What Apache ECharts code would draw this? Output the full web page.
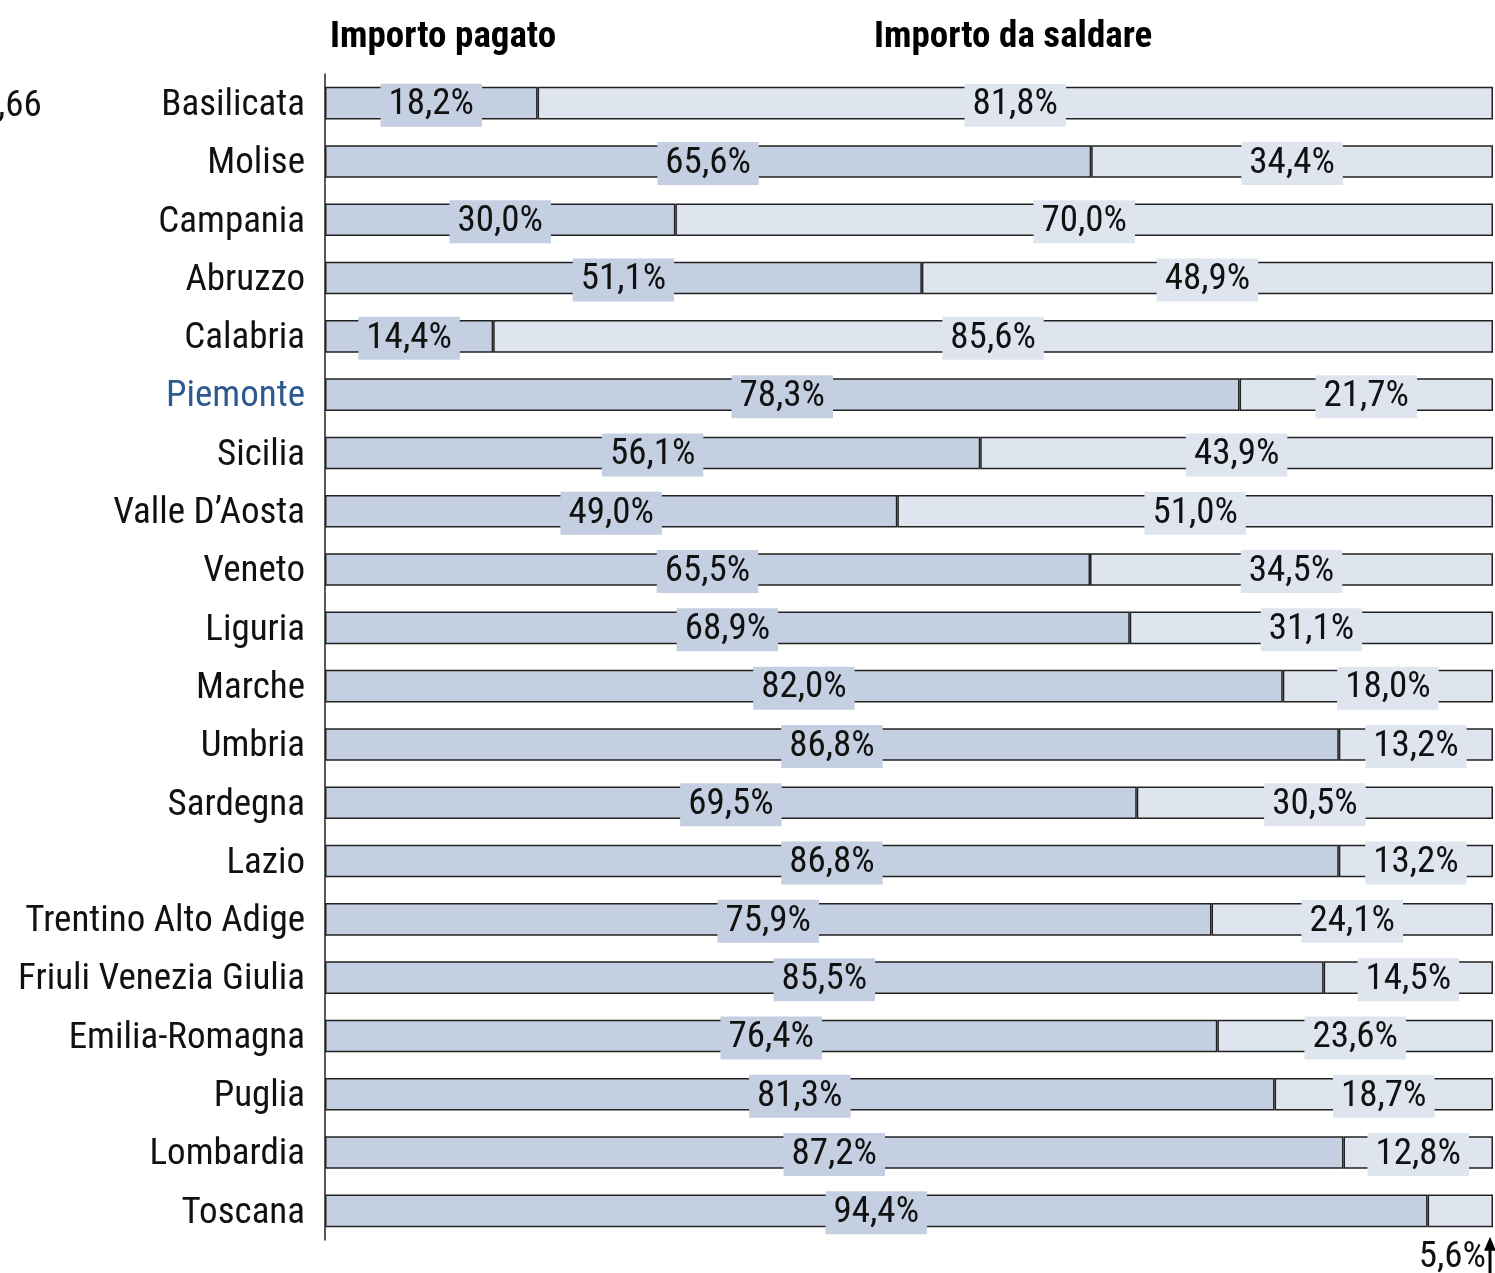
<!DOCTYPE html>
<html>
<head>
<meta charset="utf-8">
<script src="https://cdn.jsdelivr.net/npm/echarts@6/dist/echarts.min.js"></script>
<style>
  html, body { margin: 0; padding: 0; background: #fff; }
  #chart { width: 1495px; height: 1273px; }
</style>
</head>
<body>
<div id="chart"></div>
<script>
// regioni, dall'alto verso il basso
const regioni = ['Basilicata', 'Molise', 'Campania', 'Abruzzo', 'Calabria', 'Piemonte', 'Sicilia',
  "Valle D\u2019Aosta", 'Veneto', 'Liguria', 'Marche', 'Umbria', 'Sardegna', 'Lazio',
  'Trentino Alto Adige', 'Friuli Venezia Giulia', 'Emilia-Romagna', 'Puglia', 'Lombardia', 'Toscana'];
const pagato = [18.2, 65.6, 30.0, 51.1, 14.4, 78.3, 56.1, 49.0, 65.5, 68.9, 82.0, 86.8, 69.5, 86.8, 75.9, 85.5, 76.4, 81.3, 87.2, 94.4];
const daSaldare = [81.8, 34.4, 70.0, 48.9, 85.6, 21.7, 43.9, 51.0, 34.5, 31.1, 18.0, 13.2, 30.5, 13.2, 24.1, 14.5, 23.6, 18.7, 12.8, 5.6];
const evidenziata = 'Piemonte';

const FONT = "'Roboto Condensed', 'Liberation Sans Narrow', Roboto, sans-serif";
const FS = 37;
const C_PAGATO = '#c4cfe1';
const C_SALDARE = '#dfe5ef';

const fmt = v => v.toFixed(1).replace('.', ',') + '%';

function barLabel(bg) {
  return {
    show: true,
    position: 'inside',
    offset: [0, 2],
    formatter: p => fmt(p.value),
    fontFamily: FONT,
    fontSize: FS,
    color: '#111',
    backgroundColor: bg,
    padding: [2, 8, 2, 8],
    lineHeight: 39
  };
}

const chart = echarts.init(document.getElementById('chart'));

const option = {
  animation: false,
  backgroundColor: '#fff',
  grid: { left: 325, right: 2, top: 74, bottom: 33 },
  graphic: [
    { type: 'text', left: 330, top: 19, style: { text: 'Importo pagato', font: 'bold 37px ' + FONT, fill: '#000' } },
    { type: 'text', left: 874, top: 19, style: { text: 'Importo da saldare', font: 'bold 37px ' + FONT, fill: '#000' } },
    { type: 'text', left: -2, top: 88, style: { text: ',66', font: FS + 'px ' + FONT, fill: '#111' } }
  ],
  xAxis: { type: 'value', min: 0, max: 100, show: false },
  yAxis: {
    type: 'category',
    data: regioni,
    inverse: true,
    axisLine: { show: true, lineStyle: { color: '#222', width: 1.5 } },
    axisTick: { show: false },
    axisLabel: {
      margin: 20,
      padding: [5, 0, 0, 0],
      fontFamily: FONT,
      fontSize: FS,
      color: '#111',
      formatter: v => v === evidenziata ? '{h|' + v + '}' : v,
      rich: { h: { color: '#2d5a8e', fontFamily: FONT, fontSize: FS } }
    }
  },
  series: [
    {
      name: 'Importo pagato',
      type: 'bar',
      stack: 'tot',
      barWidth: '56%',
      data: pagato,
      itemStyle: { color: C_PAGATO, borderColor: '#222', borderWidth: 1.5 },
      label: barLabel(C_PAGATO)
    },
    {
      name: 'Importo da saldare',
      type: 'bar',
      stack: 'tot',
      data: daSaldare.map((v, i) => i === regioni.length - 1
        ? { value: v, label: { position: 'bottom', distance: 3, offset: [-8, 8], backgroundColor: 'transparent', padding: 0 } }
        : v),
      itemStyle: { color: C_SALDARE, borderColor: '#222', borderWidth: 1.5 },
      label: barLabel(C_SALDARE)
    }
  ]
};

chart.setOption(option);

// freccia e trattino per l'etichetta della Toscana
const ultima = regioni[regioni.length - 1];
const pEnd = chart.convertToPixel({ gridIndex: 0 }, [100, ultima]);
const pMid = chart.convertToPixel({ gridIndex: 0 }, [pagato[pagato.length - 1] + daSaldare[daSaldare.length - 1] / 2, ultima]);
const ax = pEnd[0] - 3;
const ay = pEnd[1] + 28;
chart.setOption({
  graphic: option.graphic.concat([
    { type: 'line', shape: { x1: ax, y1: ay + 8, x2: ax, y2: ay + 38 }, style: { stroke: '#000', lineWidth: 3 } },
    { type: 'polygon', shape: { points: [[ax - 6, ay + 12], [ax + 6, ay + 12], [ax, ay - 2]] }, style: { fill: '#000' } },
    { type: 'line', shape: { x1: pMid[0] - 8, y1: pMid[1] + 14, x2: pMid[0] - 3, y2: pMid[1] + 9 }, style: { stroke: '#333', lineWidth: 1 } }
  ])
});
</script>
</body>
</html>
